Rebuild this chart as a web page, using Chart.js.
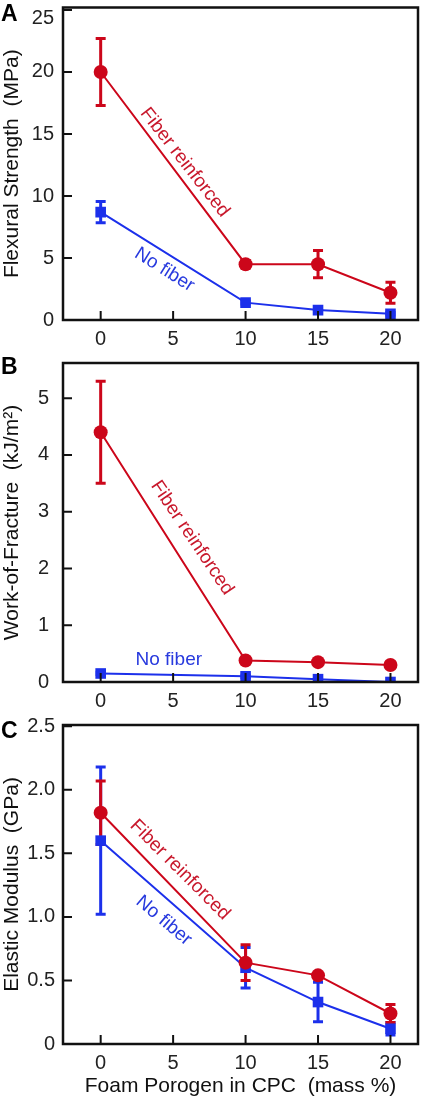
<!DOCTYPE html>
<html>
<head>
<meta charset="utf-8">
<script src="https://cdn.jsdelivr.net/npm/chart.js@4/dist/chart.umd.min.js"></script>
<style>
  html, body { margin: 0; padding: 0; background: #fff; }
  body { width: 426px; height: 1099px; position: relative; overflow: hidden; }
  .panel { position: absolute; left: 0; width: 426px; }
</style>
</head>
<body>
<div class="panel" style="top:0;height:350px"><canvas id="chartA"></canvas></div>
<div class="panel" style="top:350px;height:360px"><canvas id="chartB"></canvas></div>
<div class="panel" style="top:710px;height:389px"><canvas id="chartC"></canvas></div>
<script>
// foam porogen content (mass %)
const porogen = [0, 10, 15, 20];
const xTicks = [0, 5, 10, 15, 20];

// A - flexural strength (MPa)
const strengthFiber = [20, 4.5, 4.5, 2.2];
const strengthFiberSd = [2.7, 0.3, 1.1, 0.85];
const strengthNoFiber = [8.7, 1.4, 0.8, 0.5];
const strengthNoFiberSd = [0.85, 0.1, 0.1, 0.1];
const strengthTicks = [0, 5, 10, 15, 20, 25];
const strengthLabels = ['0', '5', '10', '15', '20', '25'];

// B - work of fracture (kJ/m2)
const wofFiber = [4.4, 0.38, 0.35, 0.3];
const wofFiberSd = [0.9, 0.04, 0.04, 0.04];
const wofNoFiber = [0.15, 0.1, 0.05, 0.0];
const wofNoFiberSd = [0.02, 0.02, 0.02, 0];
const wofTicks = [0, 1, 2, 3, 4, 5];
const wofLabels = ['0', '1', '2', '3', '4', '5'];

// C - elastic modulus (GPa)
const modulusFiber = [1.82, 0.64, 0.54, 0.24];
const modulusFiberSd = [0.25, 0.14, 0.02, 0.07];
const modulusNoFiber = [1.6, 0.6, 0.33, 0.12];
const modulusNoFiberSd = [0.58, 0.16, 0.155, 0.05];
const modulusTicks = [0, 0.5, 1, 1.5, 2, 2.5];
const modulusLabels = ['0', '0.5', '1.0', '1.5', '2.0', '2.5'];

const red = 'rgb(204, 6, 26)';
const blue = 'rgb(28, 48, 235)';
const redText = 'rgb(200, 24, 44)';
const blueText = 'rgb(40, 58, 222)';
const family = "'Liberation Sans', Arial, sans-serif";

const toPoints = (vals) => porogen.map((p, i) => ({ x: p, y: vals[i] }));

const panelDecor = {
  id: 'panelDecor',
  beforeDraw(chart, args, opts) {
    // keep the top tick label inside the picture
    if (!opts.nudgeTop) return;
    const items = chart.scales.y.getLabelItems();
    const top = items[items.length - 1];
    if (top && !top.nudged) {
      top.options.translation[1] += opts.nudgeTop;
      top.nudged = true;
    }
  },
  beforeDatasetsDraw(chart, args, opts) {
    const { ctx, scales: { x, y } } = chart;
    opts.errors.forEach((e) => {
      ctx.save();
      ctx.strokeStyle = e.color;
      ctx.lineWidth = 3;
      porogen.forEach((p, i) => {
        if (!e.sd[i]) return;
        const px = x.getPixelForValue(p);
        const lo = y.getPixelForValue(e.values[i] - e.sd[i]);
        const hi = y.getPixelForValue(e.values[i] + e.sd[i]);
        ctx.beginPath();
        ctx.moveTo(px, lo);
        ctx.lineTo(px, hi);
        ctx.moveTo(px - 5, lo);
        ctx.lineTo(px + 5, lo);
        ctx.moveTo(px - 5, hi);
        ctx.lineTo(px + 5, hi);
        ctx.stroke();
      });
      ctx.restore();
    });
  },
  afterDraw(chart, args, opts) {
    const { ctx, chartArea: a, scales: { x, y } } = chart;
    ctx.save();
    // frame
    ctx.strokeStyle = '#111';
    ctx.lineWidth = 2.5;
    ctx.strokeRect(a.left, a.top, a.right - a.left, a.bottom - a.top);
    // inward tick marks
    ctx.lineWidth = 2;
    ctx.beginPath();
    x.ticks.forEach((t) => {
      const px = x.getPixelForValue(t.value);
      ctx.moveTo(px, a.bottom);
      ctx.lineTo(px, a.bottom - 9);
    });
    y.ticks.forEach((t) => {
      const py = y.getPixelForValue(t.value);
      ctx.moveTo(a.left, py);
      ctx.lineTo(a.left + 9, py);
    });
    ctx.stroke();
    // curve labels
    ctx.font = `19px ${family}`;
    ctx.textAlign = 'center';
    ctx.textBaseline = 'middle';
    opts.notes.forEach((n) => {
      ctx.save();
      ctx.translate(x.getPixelForValue(n.x), y.getPixelForValue(n.y));
      ctx.rotate(n.angle * Math.PI / 180);
      ctx.fillStyle = n.color;
      ctx.fillText(n.text, 0, 0);
      ctx.restore();
    });
    // panel letter
    ctx.font = `bold 23px ${family}`;
    ctx.textAlign = 'left';
    ctx.fillStyle = '#000';
    ctx.fillText(opts.letter, 1, opts.letterY);
    ctx.restore();
  }
};

function makePanel(id, p) {
  const ctx = document.getElementById(id);
  return new Chart(ctx, {
    type: 'line',
    data: {
      datasets: [
        {
          label: 'Fiber reinforced',
          data: toPoints(p.fiber),
          borderColor: red,
          backgroundColor: red,
          borderWidth: 2,
          pointStyle: 'circle',
          pointRadius: 7,
          pointBorderWidth: 0,
          tension: 0
        },
        {
          label: 'No fiber',
          data: toPoints(p.noFiber),
          borderColor: blue,
          backgroundColor: blue,
          borderWidth: 2,
          pointStyle: 'rect',
          pointRadius: 7.5,
          pointBorderWidth: 0,
          tension: 0
        }
      ]
    },
    options: {
      responsive: true,
      maintainAspectRatio: false,
      animation: false,
      layout: { padding: { left: 0, right: 8, top: p.padTop, bottom: 0 } },
      plugins: {
        legend: { display: false },
        tooltip: { enabled: false },
        panelDecor: {
          errors: [
            { values: p.noFiber, sd: p.noFiberSd, color: blue },
            { values: p.fiber, sd: p.fiberSd, color: red }
          ],
          notes: p.notes,
          letter: p.letter,
          letterY: p.letterY,
          nudgeTop: p.nudgeTop
        }
      },
      scales: {
        x: {
          type: 'linear',
          min: -2.6,
          max: 21.9,
          grid: { display: false, drawTicks: false },
          border: { display: false },
          afterBuildTicks: (s) => { s.ticks = xTicks.map((v) => ({ value: v })); },
          afterFit: (s) => { s.height = p.xHeight; s.paddingLeft = 0; s.paddingRight = 0; },
          ticks: {
            padding: 7,
            color: '#222',
            font: { family: family, size: 20 },
            maxRotation: 0,
            callback: (v) => String(v)
          },
          title: {
            display: !!p.xTitle,
            text: p.xTitle || '',
            color: '#111',
            font: { family: family, size: 21 },
            padding: { top: 0, bottom: 0 }
          }
        },
        y: {
          type: 'linear',
          min: 0,
          max: p.yMax,
          grid: { display: false, drawTicks: false },
          border: { display: false },
          afterBuildTicks: (s) => { s.ticks = p.yTicks.map((v) => ({ value: v })); },
          afterFit: (s) => { s.width = 63; s.paddingTop = 0; s.paddingBottom = 0; },
          ticks: {
            padding: p.yPad,
            color: '#222',
            font: { family: family, size: 20 },
            callback: (v) => p.yLabels[p.yTicks.indexOf(v)]
          },
          title: {
            display: true,
            text: p.yTitle,
            color: '#111',
            font: { family: family, size: 21 },
            padding: { top: 0, bottom: 0 }
          }
        }
      }
    },
    plugins: [panelDecor]
  });
}

window.onload = () => {
  makePanel('chartA', {
    fiber: strengthFiber, fiberSd: strengthFiberSd,
    noFiber: strengthNoFiber, noFiberSd: strengthNoFiberSd,
    yMax: 25.2, yTicks: strengthTicks, yLabels: strengthLabels,
    yTitle: 'Flexural Strength  (MPa)',
    padTop: 1, xHeight: 30, yPad: 9, nudgeTop: 9,
    letter: 'A', letterY: 15,
    notes: [
      { text: 'Fiber reinforced', color: redText, x: 5.8, y: 12.7, angle: 52 },
      { text: 'No fiber', color: blueText, x: 4.4, y: 4.05, angle: 32 }
    ]
  });
  makePanel('chartB', {
    fiber: wofFiber, fiberSd: wofFiberSd,
    noFiber: wofNoFiber, noFiberSd: wofNoFiberSd,
    yMax: 5.62, yTicks: wofTicks, yLabels: wofLabels,
    yTitle: 'Work-of-Fracture  (kJ/m²)',
    padTop: 13, xHeight: 28, yPad: 14, nudgeTop: 0,
    letter: 'B', letterY: 18,
    notes: [
      { text: 'Fiber reinforced', color: redText, x: 6.3, y: 2.54, angle: 56 },
      { text: 'No fiber', color: blueText, x: 4.7, y: 0.4, angle: 0 }
    ]
  });
  makePanel('chartC', {
    fiber: modulusFiber, fiberSd: modulusFiberSd,
    noFiber: modulusNoFiber, noFiberSd: modulusNoFiberSd,
    yMax: 2.51, yTicks: modulusTicks, yLabels: modulusLabels,
    yTitle: 'Elastic Modulus  (GPa)',
    xTitle: 'Foam Porogen in CPC  (mass %)',
    padTop: 15, xHeight: 55, yPad: 8, nudgeTop: 0,
    letter: 'C', letterY: 22,
    notes: [
      { text: 'Fiber reinforced', color: redText, x: 5.47, y: 1.37, angle: 45 },
      { text: 'No fiber', color: blueText, x: 4.36, y: 0.97, angle: 40 }
    ]
  });
};
</script>
</body>
</html>
